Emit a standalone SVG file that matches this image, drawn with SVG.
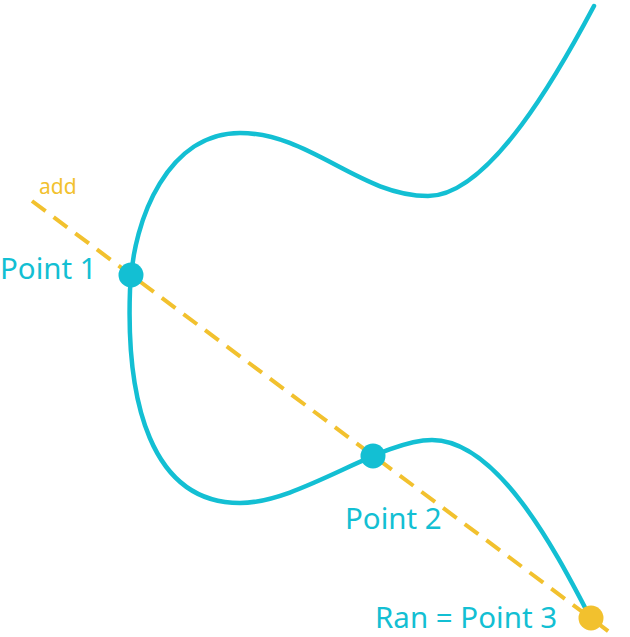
<svg xmlns="http://www.w3.org/2000/svg" width="630" height="637" viewBox="0 0 630 637">
<style>
.curve{fill:none;stroke:#13BFD3;stroke-width:4.5;stroke-linecap:round}
.line{fill:none;stroke:#F2C12E;stroke-width:4;stroke-dasharray:17 10}
.lbl{font-family:"Noto Sans","Open Sans",sans-serif;fill:#13BFD3;font-size:29.5px}
.lbly{font-family:"Noto Sans","Open Sans",sans-serif;fill:#F2C12E;font-size:21px}
</style>
<rect width="630" height="637" fill="#fff"/>
<g id="connectors">
<path id="curve" class="curve" d="M594,6 C560,70 490,196 428,196 C360,196 310,133 240,133 C170,133 133,215 130,290 C126,400 150,503 240,503 C300,503 380,440 432,440 C500,440 560,560 590,617"/>
<path id="line" class="line" d="M32,201 L612,634"/>
</g>
<g id="add"><text class="lbly" x="39" y="194">add</text></g>
<g id="point1"><circle cx="131" cy="275" r="12.5" fill="#13BFD3"/><text class="lbl" x="0" y="279">Point 1</text></g>
<g id="point2"><circle cx="373" cy="456" r="12.5" fill="#13BFD3"/><text class="lbl" x="345" y="529">Point 2</text></g>
<g id="point3"><circle cx="591" cy="618" r="12.5" fill="#F2C12E"/><text class="lbl" x="375" y="628">Ran = Point 3</text></g>
</svg>
